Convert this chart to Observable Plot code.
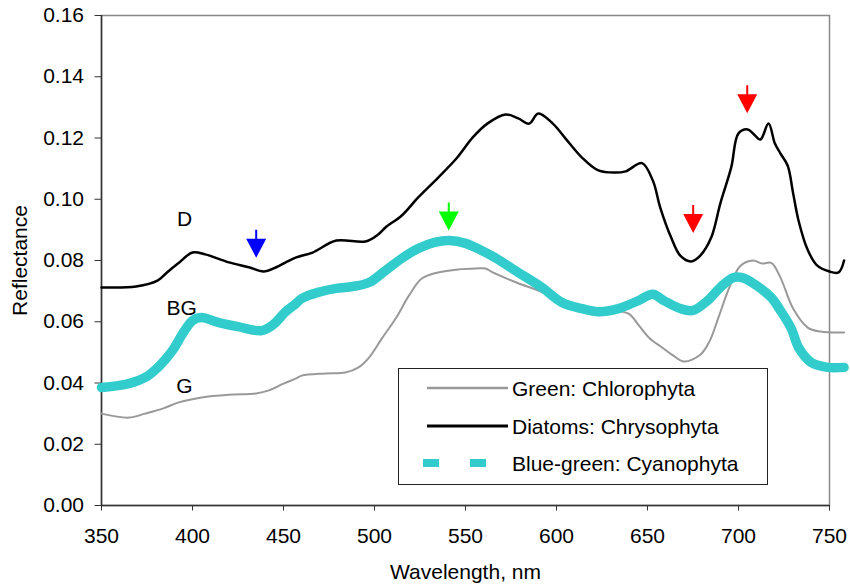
<!DOCTYPE html>
<html>
<head>
<meta charset="utf-8">
<script src="https://cdn.jsdelivr.net/npm/d3@7"></script>
<script src="https://cdn.jsdelivr.net/npm/@observablehq/plot@0.6"></script>
<style>
  html, body { margin: 0; padding: 0; background: #fff; }
  #wrap { position: relative; width: 850px; height: 588px; font-family: "Liberation Sans", Arial, sans-serif; }
  #legend { position: absolute; left: 398px; top: 368px; width: 370px; height: 117px; box-sizing: border-box; border: 1px solid #222; background: #fff; }
</style>
</head>
<body>
<div id="wrap"></div>
<script>
// ---- Data ----
const greenWl = [350,365,374,384,392,405,420,435,442,450,457,460,473,484,491,497,504,512,519,526,535,546,556,561,565,578,590,601,616,632,640,645,651,658,664,670,679,684,689,695,701,708,713,718,723,730,738,745,758];
const greenR  = [0.0300,0.0287,0.0300,0.0317,0.0336,0.0353,0.0362,0.0366,0.0376,0.0398,0.0415,0.0424,0.0431,0.0434,0.0450,0.0483,0.0545,0.0614,0.0686,0.0741,0.0761,0.0771,0.0774,0.0774,0.0761,0.0728,0.0702,0.0676,0.0647,0.0637,0.0625,0.0590,0.0547,0.0516,0.0490,0.0470,0.0492,0.0535,0.0614,0.0712,0.0782,0.0800,0.0790,0.0792,0.0745,0.0643,0.0581,0.0568,0.0565];

const diatomWl = [350,369,381,386,392,400,407,420,431,439,446,451,457,466,479,495,502,506,515,524,535,545,554,562,572,579,585,590,598,605,614,623,632,638,647,653,657,663,668,674,679,685,690,696,700,705,708,712,716.5,720,723,727,730,733,738,743,750,755,758];
const diatomR  = [0.0712,0.0715,0.0735,0.0761,0.0790,0.0826,0.0820,0.0794,0.0778,0.0764,0.0778,0.0793,0.0810,0.0826,0.0865,0.0862,0.0885,0.0908,0.0947,0.1006,0.1071,0.1133,0.1202,0.1247,0.1277,0.1264,0.1247,0.1280,0.1247,0.1198,0.1136,0.1094,0.1087,0.1091,0.1118,0.1060,0.0973,0.0875,0.0816,0.0797,0.0816,0.0875,0.0986,0.1104,0.1215,0.1228,0.1215,0.1195,0.1247,0.1182,0.1150,0.1110,0.1020,0.0930,0.0835,0.0785,0.0764,0.0761,0.0800];

const bgWl = [350,365,374,382,389,395,400,405,414,425,438,445,451,457,460,469,479,488,497,506,515,524,533,541,550,558,566,579,592,603,614,623,634,645,653,659,668,675,683,690,697,702,710,718,723,729,733,740,749,758];
const bgR  = [0.0385,0.0398,0.0418,0.0457,0.0506,0.0565,0.0604,0.0614,0.0598,0.0584,0.0571,0.0594,0.0632,0.0660,0.0676,0.0696,0.0709,0.0715,0.0728,0.0767,0.0807,0.0839,0.0859,0.0865,0.0856,0.0835,0.0810,0.0761,0.0712,0.0663,0.0643,0.0633,0.0643,0.0669,0.0690,0.0669,0.0643,0.0637,0.0669,0.0712,0.0744,0.0744,0.0718,0.0679,0.0637,0.0578,0.0516,0.0467,0.0451,0.0451];

const seriesNames  = ["Green: Chlorophyta", "Diatoms: Chrysophyta", "Blue-green: Cyanophyta"];
const seriesColors = ["#999999", "#000000", "#33CCCC"];

const curveLabels   = ["D", "BG", "G"];
const curveLabelWl  = [395.6, 394, 395.6];
const curveLabelR   = [0.0934, 0.0643, 0.0389];

const arrowWl    = [435, 540.8, 675.1, 704.8];
const arrowR     = [0.0809, 0.0898, 0.0890, 0.1281];
const arrowColor = ["#0000FF", "#00FF00", "#FF0000", "#FF0000"];

const xTicks = [350, 400, 450, 500, 550, 600, 650, 700, 750];
const yTicks = [0, 0.02, 0.04, 0.06, 0.08, 0.10, 0.12, 0.14, 0.16];

// ---- Build tables ----
const toRows = (wl, r) => wl.map((w, i) => ({wl: w, r: r[i]}));
const green = toRows(greenWl, greenR);
const diatom = toRows(diatomWl, diatomR);
const bg = toRows(bgWl, bgR);
const labels = curveLabels.map((t, i) => ({t, wl: curveLabelWl[i], r: curveLabelR[i]}));
const arrows = arrowWl.map((w, i) => ({wl: w, r: arrowR[i], c: arrowColor[i]}));

// Downward arrow symbol, tip at the anchor point
const arrowDown = {
  draw(ctx) {
    ctx.moveTo(-10, -19);
    ctx.lineTo(10, -19);
    ctx.lineTo(0, 0);
    ctx.closePath();
    ctx.moveTo(-1, -28);
    ctx.lineTo(1, -28);
    ctx.lineTo(1, -18);
    ctx.lineTo(-1, -18);
    ctx.closePath();
  }
};

const chart = Plot.plot({
  width: 850,
  height: 588,
  marginLeft: 101,
  marginRight: 21,
  marginTop: 15,
  marginBottom: 83,
  style: {fontFamily: '"Liberation Sans", Arial, sans-serif', fontSize: "21px", color: "#000", background: "#fff"},
  x: {domain: [350, 750]},
  y: {domain: [0, 0.16]},
  marks: [
    Plot.frame({stroke: "#888", strokeWidth: 1.5}),
    Plot.axisX(xTicks, {tickSize: 5.5, tickPadding: 17, stroke: "#333", fontSize: 21,
      label: "Wavelength, nm", labelAnchor: "center", labelArrow: "none", labelOffset: 73}),
    Plot.axisY(yTicks, {tickSize: 6.5, tickPadding: 11, stroke: "#333", fontSize: 21,
      tickFormat: d => d.toFixed(2),
      label: "Reflectance", labelAnchor: "center", labelArrow: "none", labelOffset: 89}),
    Plot.ruleY([0], {stroke: "#333", strokeWidth: 1.5}),
    Plot.ruleX([350], {stroke: "#333", strokeWidth: 1.5}),
    Plot.line(green, {x: "wl", y: "r", stroke: seriesColors[0], strokeWidth: 2, curve: "catmull-rom"}),
    Plot.line(diatom, {x: "wl", y: "r", stroke: seriesColors[1], strokeWidth: 2.5, curve: "catmull-rom"}),
    Plot.line(bg, {x: "wl", y: "r", stroke: seriesColors[2], strokeWidth: 9.5, curve: "catmull-rom"}),
    Plot.text(labels, {x: "wl", y: "r", text: "t", fontSize: 21, fill: "#000"}),
    Plot.dot(arrows, {x: "wl", y: "r", symbol: arrowDown, fill: "c", stroke: null})
  ]
});

const wrap = document.getElementById("wrap");
wrap.appendChild(chart);

// ---- Legend (HTML overlay with inline SVG) ----
const ns = "http://www.w3.org/2000/svg";
const legend = document.createElement("div");
legend.id = "legend";
const lsvg = document.createElementNS(ns, "svg");
lsvg.setAttribute("width", 368);
lsvg.setAttribute("height", 115);
const rowY = [19, 57, 94];
const rowStyles = [
  {w: 2.5, dash: null, x1: 28},
  {w: 3, dash: null, x1: 28},
  {w: 8, dash: "16 31", x1: 24}
];
seriesNames.forEach((name, i) => {
  const ln = document.createElementNS(ns, "line");
  ln.setAttribute("x1", rowStyles[i].x1);
  ln.setAttribute("x2", 109);
  ln.setAttribute("y1", rowY[i]);
  ln.setAttribute("y2", rowY[i]);
  ln.setAttribute("stroke", seriesColors[i]);
  ln.setAttribute("stroke-width", rowStyles[i].w);
  if (rowStyles[i].dash) ln.setAttribute("stroke-dasharray", rowStyles[i].dash);
  lsvg.appendChild(ln);
  const tx = document.createElementNS(ns, "text");
  tx.setAttribute("x", 113);
  tx.setAttribute("y", rowY[i] + 7.5);
  tx.setAttribute("font-size", 21);
  tx.setAttribute("font-family", '"Liberation Sans", Arial, sans-serif');
  tx.textContent = name;
  lsvg.appendChild(tx);
});
legend.appendChild(lsvg);
wrap.appendChild(legend);
</script>
</body>
</html>
